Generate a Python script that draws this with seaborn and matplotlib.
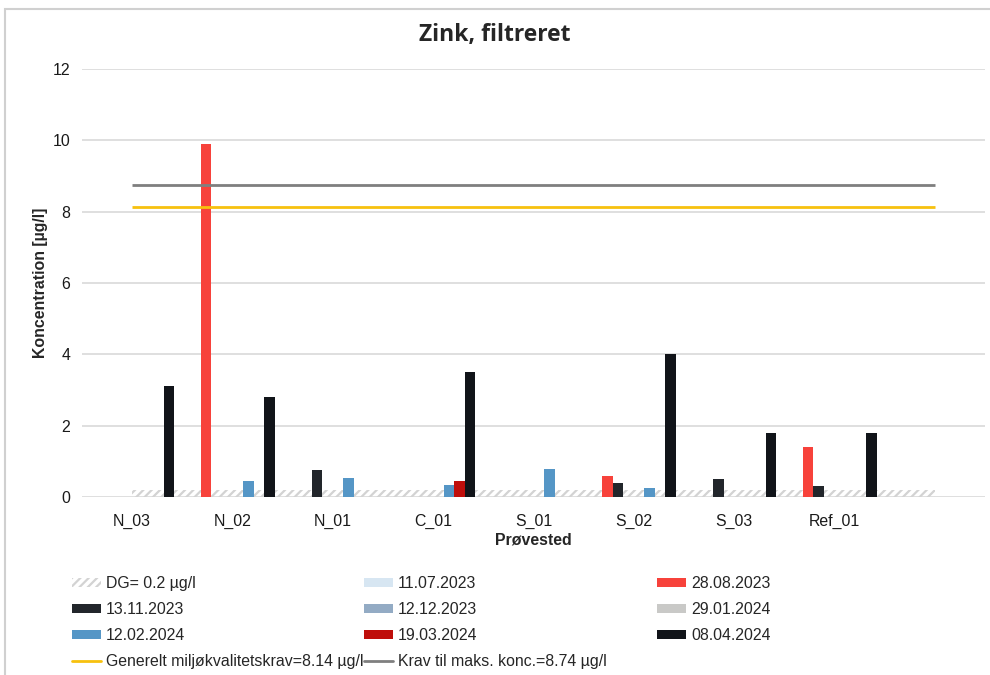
import numpy as np
import pandas as pd
import matplotlib
matplotlib.use("Agg")
import matplotlib.pyplot as plt
import seaborn as sns
from matplotlib.patches import Patch, Rectangle
from matplotlib.lines import Line2D

nan = np.nan

# ---------------- data ----------------
stations = ["N_03", "N_02", "N_01", "C_01", "S_01", "S_02", "S_03", "Ref_01"]
dates = ["11.07.2023", "28.08.2023", "13.11.2023", "12.12.2023",
         "29.01.2024", "12.02.2024", "19.03.2024", "08.04.2024"]

v_11_07_2023 = [nan, nan, nan, nan, nan, nan, nan, nan]
v_28_08_2023 = [nan, 9.9, nan, nan, nan, 0.6, nan, 1.4]
v_13_11_2023 = [nan, nan, 0.75, nan, nan, 0.4, 0.5, 0.3]
v_12_12_2023 = [nan, nan, nan, nan, nan, nan, nan, nan]
v_29_01_2024 = [nan, nan, nan, nan, nan, nan, nan, nan]
v_12_02_2024 = [nan, 0.45, 0.52, 0.34, 0.79, 0.25, nan, nan]
v_19_03_2024 = [nan, nan, nan, 0.45, nan, nan, nan, nan]
v_08_04_2024 = [3.1, 2.8, nan, 3.5, nan, 4.0, 1.8, 1.8]

series_values = [v_11_07_2023, v_28_08_2023, v_13_11_2023, v_12_12_2023,
                 v_29_01_2024, v_12_02_2024, v_19_03_2024, v_08_04_2024]

dg_value = 0.2
generelt_value = 8.14
krav_value = 8.74
n_categories = 9  # 8 stations + one empty slot as in the reference

dg_label = "DG= 0.2 µg/l"
generelt_label = "Generelt miljøkvalitetskrav=8.14 µg/l"
krav_label = "Krav til maks. konc.=8.74 µg/l"

colors = {
    "11.07.2023": "#D7E6F2",
    "28.08.2023": "#F7423B",
    "13.11.2023": "#22262B",
    "12.12.2023": "#93ABC4",
    "29.01.2024": "#C9C9C7",
    "12.02.2024": "#5596C6",
    "19.03.2024": "#BF0E0B",
    "08.04.2024": "#111419",
}
generelt_color = "#F7C10E"
krav_color = "#7F7F7F"
dg_color = "#D3D3D3"

rows = []
for d, vals in zip(dates, series_values):
    for s, v in zip(stations, vals):
        rows.append({"Prøvested": s, "Dato": d, "Værdi": v})
df = pd.DataFrame(rows)

# ---------------- figure ----------------
sns.set_theme(style="white")
plt.rcParams["font.family"] = ["Liberation Sans", "DejaVu Sans"]
plt.rcParams["hatch.linewidth"] = 1.6
FS = 11.4

fig = plt.figure(figsize=(9.9, 6.75), dpi=100)
ax = fig.add_axes([82 / 990, 1 - 497 / 675, (985 - 82) / 990, (497 - 69) / 675])

# DG hatched area (behind bars)
xs = np.arange(n_categories)
ax.fill_between(xs, 0, np.full(n_categories, dg_value), facecolor="none",
                edgecolor=dg_color, hatch="////", linewidth=0, zorder=1)

sns.barplot(data=df, x="Prøvested", y="Værdi", hue="Dato", order=stations,
            hue_order=dates, palette=colors, width=0.84, errorbar=None,
            linewidth=0, saturation=1, legend=False, ax=ax, zorder=3)

ax.plot(xs, np.full(n_categories, generelt_value), color=generelt_color,
        lw=2.0, zorder=4, solid_capstyle="butt")
ax.plot(xs, np.full(n_categories, krav_value), color=krav_color,
        lw=2.0, zorder=4, solid_capstyle="butt")

ax.set_xlim(-0.5, n_categories - 0.5)
ax.set_ylim(0, 12)
ax.set_yticks(np.arange(0, 13, 2))
ax.set_xticks(range(len(stations)))
ax.set_xticklabels(stations)
ax.yaxis.grid(True, color="#D9D9D9", lw=1.2)
ax.set_axisbelow(True)
for sp in ax.spines.values():
    sp.set_visible(False)
ax.tick_params(axis="both", length=0, labelsize=FS, colors="#1a1a1a")
ax.tick_params(axis="x", pad=12)
ax.tick_params(axis="y", pad=8.5)

ax.set_xlabel("Prøvested", fontsize=FS, fontweight="bold", labelpad=3)
ax.set_ylabel("Koncentration [µg/l]", fontsize=FS, fontweight="bold", labelpad=3)

fig.text(0.5, 1 - 35 / 675, "Zink, filtreret", ha="center", va="center",
         fontsize=16.5, fontweight="bold", family=["Open Sans", "DejaVu Sans"])

# outer chart border
fig.patches.append(Rectangle((5 / 990, -0.02), 1.1, 1 - 9 / 675 + 0.02,
                             transform=fig.transFigure, fill=False,
                             edgecolor="#D0D0D0", lw=1.5))

# legend: three columns placed like the reference
def bar_handle(d):
    return Patch(facecolor=colors[d], edgecolor="none")

dg_handle = Patch(facecolor="none", edgecolor=dg_color, hatch="////", linewidth=0)
gen_handle = Line2D([], [], color=generelt_color, lw=2)
krav_handle = Line2D([], [], color=krav_color, lw=2)

columns = [
    ([dg_handle, bar_handle(dates[2]), bar_handle(dates[5]), gen_handle],
     [dg_label, dates[2], dates[5], generelt_label], 72),
    ([bar_handle(dates[0]), bar_handle(dates[3]), bar_handle(dates[6]), krav_handle],
     [dates[0], dates[3], dates[6], krav_label], 364),
    ([bar_handle(dates[1]), bar_handle(dates[4]), bar_handle(dates[7])],
     [dates[1], dates[4], dates[7]], 657),
]
for hs, ls, x0 in columns:
    fig.legend(hs, ls, ncol=1, loc="upper left",
               bbox_to_anchor=(x0 / 990, 1 - 576 / 675), frameon=False,
               fontsize=FS, handlelength=1.8, handleheight=0.45,
               handletextpad=0.35, labelspacing=0.7,
               borderaxespad=0, borderpad=0)

fig.savefig("out.png", dpi=100)
